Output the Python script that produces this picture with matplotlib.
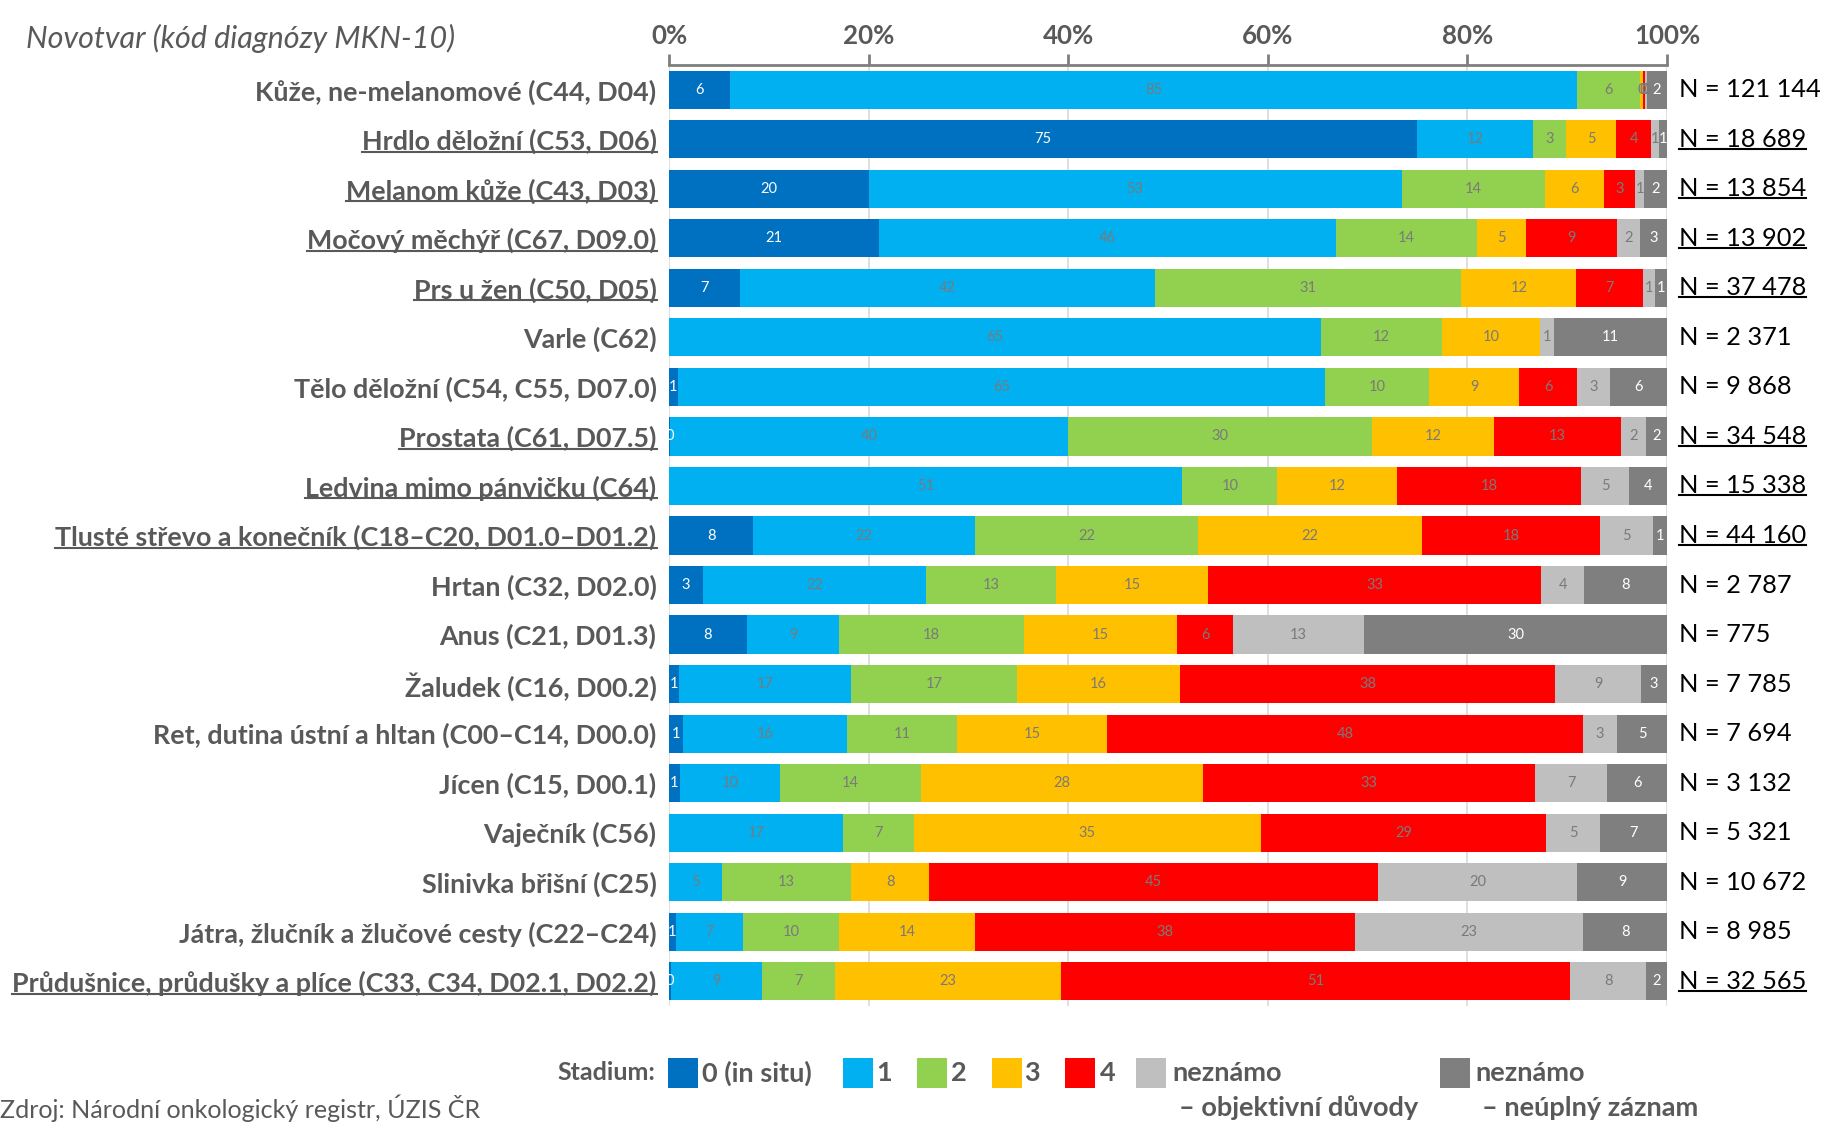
import matplotlib
matplotlib.use('Agg')
import matplotlib.pyplot as plt
import numpy as np
from matplotlib.patches import Rectangle
from matplotlib.lines import Line2D

plt.rcParams['font.family'] = ['Lato', 'DejaVu Sans']

categories = [
    'Kůže, ne-melanomové (C44, D04)',
    'Hrdlo děložní (C53, D06)',
    'Melanom kůže (C43, D03)',
    'Močový měchýř (C67, D09.0)',
    'Prs u žen (C50, D05)',
    'Varle (C62)',
    'Tělo děložní (C54, C55, D07.0)',
    'Prostata (C61, D07.5)',
    'Ledvina mimo pánvičku (C64)',
    'Tlusté střevo a konečník (C18–C20, D01.0–D01.2)',
    'Hrtan (C32, D02.0)',
    'Anus (C21, D01.3)',
    'Žaludek (C16, D00.2)',
    'Ret, dutina ústní a hltan (C00–C14, D00.0)',
    'Jícen (C15, D00.1)',
    'Vaječník (C56)',
    'Slinivka břišní (C25)',
    'Játra, žlučník a žlučové cesty (C22–C24)',
    'Průdušnice, průdušky a plíce (C33, C34, D02.1, D02.2)',
]
n_labels = ['N = 121 144', 'N = 18 689', 'N = 13 854', 'N = 13 902', 'N = 37 478',
            'N = 2 371', 'N = 9 868', 'N = 34 548', 'N = 15 338', 'N = 44 160',
            'N = 2 787', 'N = 775', 'N = 7 785', 'N = 7 694', 'N = 3 132',
            'N = 5 321', 'N = 10 672', 'N = 8 985', 'N = 32 565']
underlined = [False, True, True, True, True, False, False, True, True, True,
              False, False, False, False, False, False, False, False, True]

stage_names = ['0 (in situ)', '1', '2', '3', '4',
               'neznámo\n– objektivní důvody', 'neznámo\n– neúplný záznam']

s0 = [6.1, 75.0, 20.0, 21.0, 7.1, 0, 0.9, 0.1, 0, 8.4, 3.4, 7.8, 1.0, 1.4, 1.1, 0, 0, 0.7, 0.2]
s1 = [84.9, 11.7, 53.4, 45.8, 41.6, 65.3, 64.8, 39.9, 51.4, 22.2, 22.4, 9.3, 17.2, 16.4, 10.0, 17.4, 5.3, 6.7, 9.1]
s2 = [6.3, 3.3, 14.4, 14.2, 30.7, 12.2, 10.5, 30.4, 9.5, 22.3, 13.0, 18.5, 16.7, 11.1, 14.2, 7.1, 12.9, 9.6, 7.3]
s3 = [0.3, 5.0, 5.9, 4.9, 11.5, 9.8, 9.0, 12.3, 12.0, 22.4, 15.2, 15.4, 16.3, 15.0, 28.2, 34.8, 7.9, 13.6, 22.7]
s4 = [0.2, 3.5, 3.1, 9.1, 6.7, 0, 5.8, 12.7, 18.4, 17.8, 33.4, 5.6, 37.6, 47.7, 33.3, 28.6, 44.9, 38.1, 51.0]
s5 = [0.2, 0.8, 0.9, 2.3, 1.2, 1.4, 3.3, 2.5, 4.8, 5.3, 4.3, 13.1, 8.6, 3.4, 7.2, 5.4, 20.0, 22.8, 7.6]
s6 = [2.0, 0.8, 2.3, 2.7, 1.2, 11.3, 5.7, 2.1, 3.8, 1.4, 8.3, 30.4, 2.6, 5.0, 6.0, 6.7, 9.0, 8.4, 2.1]

colors = ['#0070C0', '#00B0F0', '#92D050', '#FFC000', '#FF0000', '#BFBFBF', '#7F7F7F']
GRAY = '#595959'
LBL = '#7A7A7A'
label_colors = ['white', LBL, LBL, LBL, LBL, LBL, 'white']

W, H = 1825, 1123
fig = plt.figure(figsize=(W / 100, H / 100), dpi=100)
ax = fig.add_axes([669 / W, 1 - 1006 / H, 998 / W, 941 / H])

vals = np.array([s0, s1, s2, s3, s4, s5, s6], dtype=float).T
pct = vals / vals.sum(axis=1, keepdims=True) * 100
y = np.arange(len(categories))
left = np.zeros(len(categories))
for j in range(7):
    ax.barh(y, pct[:, j], left=left, height=0.77, color=colors[j], zorder=2, linewidth=0)
    for i in range(len(categories)):
        if vals[i, j] > 0:
            ax.text(left[i] + pct[i, j] / 2, y[i], f'{int(round(vals[i, j]))}',
                    ha='center', va='center', fontsize=10.5, color=label_colors[j], zorder=3)
    left += pct[:, j]

ax.set_xlim(0, 100)
ax.set_ylim(len(categories) - 0.5, -0.5)
ax.xaxis.tick_top()
ax.set_xticks([0, 20, 40, 60, 80, 100])
ax.set_xticklabels(['0%', '20%', '40%', '60%', '80%', '100%'], fontweight='bold')
ax.tick_params(axis='x', direction='out', length=8, width=2, color='#7F7F7F',
               labelsize=19, labelcolor=GRAY, pad=4)
ax.grid(axis='x', color='#D9D9D9', linewidth=1.2, zorder=0)
ax.set_axisbelow(True)
for s in ['bottom', 'left', 'right']:
    ax.spines[s].set_visible(False)
ax.spines['top'].set_color('#7F7F7F')
ax.spines['top'].set_linewidth(2)
ax.set_yticks(y)
ax.set_yticklabels(categories, fontweight='bold', color=GRAY, fontsize=18)
ax.tick_params(axis='y', length=0, pad=9)

ntexts = []
for i, t in enumerate(n_labels):
    ntexts.append(ax.text(101.2, y[i], t, ha='left', va='center', fontsize=18,
                          color='black', clip_on=False))

header = fig.text(26 / W, 1 - 38 / H, 'Novotvar (kód diagnózy MKN-10)', style='italic',
                  color=GRAY, fontsize=18, va='center', ha='left')
source = fig.text(0, 1 - 1108 / H, 'Zdroj: Národní onkologický registr, ÚZIS ČR',
                  color=GRAY, fontsize=16, va='center', ha='left')

# legend (manual)
fig.text(655 / W, 1 - 1073 / H, 'Stadium:', fontweight='bold', color=GRAY, fontsize=18,
         ha='right', va='center')
sq_x = [668, 843, 917, 992, 1065, 1136, 1440]
lab_x = [702, 876, 951, 1024, 1100, 1172, 1475]
leg_texts = []
for j in range(7):
    fig.add_artist(Rectangle((sq_x[j] / W, 1 - 1088 / H), 30 / W, 30 / H,
                             transform=fig.transFigure, color=colors[j], lw=0))
    lines = stage_names[j].split('\n')
    leg_texts.append(fig.text(lab_x[j] / W, 1 - 1073 / H, lines[0], fontweight='bold',
                              color=GRAY, fontsize=18, ha='left', va='center'))
    if len(lines) > 1:
        leg_texts.append(fig.text((lab_x[j] + 7) / W, 1 - 1108 / H, lines[1], fontweight='bold',
                                  color=GRAY, fontsize=18, ha='left', va='center'))

# fit font sizes to measured widths of reference
fig.canvas.draw()
r = fig.canvas.get_renderer()

def width(t):
    return t.get_window_extent(r).width

ylabels = ax.get_yticklabels()
wmax = max(width(t) for t in ylabels)
cat_size = 18 * 648 / wmax
for t in ylabels:
    t.set_fontsize(cat_size)
nw = width(ntexts[0])
for t in ntexts:
    t.set_fontsize(18 * 142 / nw)
header.set_fontsize(18 * 429 / width(header))
source.set_fontsize(16 * 484 / width(source))
xl = ax.get_xticklabels()
ts = 19 * 66 / width(xl[-1])
ax.tick_params(axis='x', labelsize=ts)
lw_ = width(leg_texts[6])
for t in leg_texts:
    t.set_fontsize(18 * 240 / lw_)

fig.canvas.draw()
r = fig.canvas.get_renderer()
for i, t in enumerate(ylabels):
    if underlined[i]:
        bb = t.get_window_extent(r)
        yy = bb.y0 + 0.09 * bb.height
        fig.add_artist(Line2D([bb.x0 / W, bb.x1 / W], [yy / H, yy / H], color=GRAY, lw=1.5,
                              transform=fig.transFigure))
        bb = ntexts[i].get_window_extent(r)
        yy = bb.y0 + 0.09 * bb.height
        fig.add_artist(Line2D([bb.x0 / W, bb.x1 / W], [yy / H, yy / H], color='black', lw=1.5,
                              transform=fig.transFigure))

fig.savefig('out.png', dpi=100)
